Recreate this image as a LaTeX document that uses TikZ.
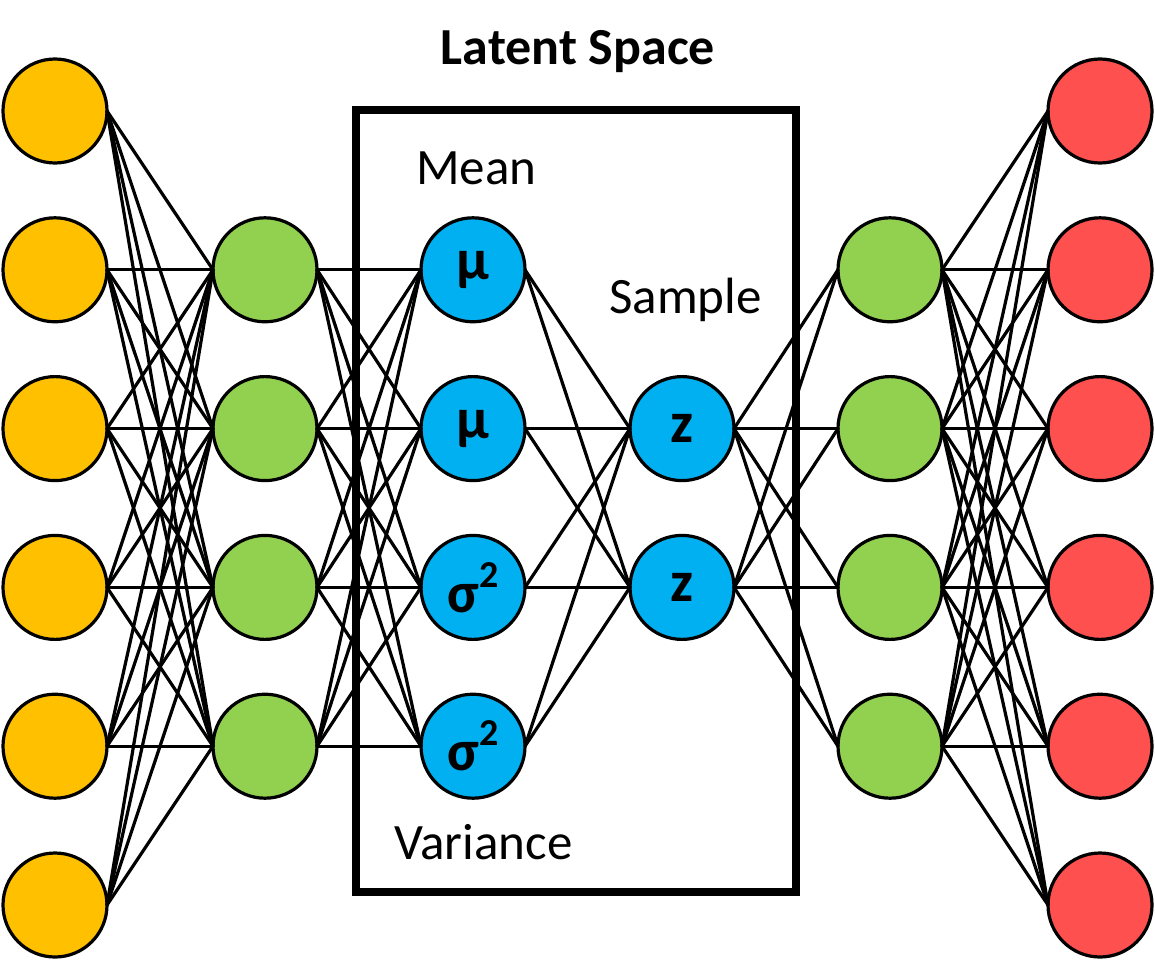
\documentclass[tikz,border=0pt]{standalone}
\usepackage{fontspec}
\setmainfont{Carlito}
\definecolor{cOrange}{HTML}{FFC000}
\definecolor{cGreen}{HTML}{92D050}
\definecolor{cBlue}{HTML}{00B0F0}
\definecolor{cRed}{HTML}{FF5050}
\newcommand{\latfont}{\fontsize{58}{62}\selectfont\bfseries}
\newcommand{\sqsup}{\kern1pt\raisebox{25pt}{\fontsize{38}{40}\selectfont\bfseries 2}}
\begin{document}
\begin{tikzpicture}[x=1pt,y=-1pt,
  neuron/.style={circle, draw=black, line width=3.2pt, minimum size=104pt, inner sep=0pt, outer sep=0pt},
  inp/.style={neuron, fill=cOrange},
  hid/.style={neuron, fill=cGreen},
  lat/.style={neuron, fill=cBlue},
  outp/.style={neuron, fill=cRed},
  conn/.style={line width=3.2pt, line cap=round},
  lbl/.style={font=\fontsize{51}{60}\selectfont, inner sep=0pt, anchor=base west},
  latentbox/.style={draw=black, line width=8.5pt, minimum width=440pt, minimum height=782pt, inner sep=0pt}]
\useasboundingbox (0,0) rectangle (1155,960);

% latent space box
\node[latentbox] (box) at (576,501) {};
\node[font=\fontsize{52}{60}\selectfont\bfseries, inner sep=0pt, anchor=base] (title) at (578,65) {Latent Space};
\node[lbl] (mean) at (416,184) {Mean};
\node[lbl] (sample) at (609,313) {Sample};
\node[lbl] (variance) at (394,859) {Variance};

% input layer
\foreach \i/\y in {1/111,2/269.8,3/428.6,4/587.4,5/746.2,6/905}
  \node[inp] (o\i) at (55,\y) {};
% encoder hidden layer
\foreach \i/\y in {1/269.8,2/428.6,3/587.4,4/746.2}
  \node[hid] (g\i) at (265,\y) {};
% mean / variance layer
\node[lat] (m1) at (473,269.8) {\latfont μ};
\node[lat] (m2) at (473,428.6) {\latfont μ};
\node[lat] (m3) at (473,587.4) {\latfont σ\sqsup};
\node[lat] (m4) at (473,746.2) {\latfont σ\sqsup};
% sample layer
\node[lat] (z1) at (682,428.6) {\latfont z};
\node[lat] (z2) at (682,587.4) {\latfont z};
% decoder hidden layer
\foreach \i/\y in {1/269.8,2/428.6,3/587.4,4/746.2}
  \node[hid] (h\i) at (890,\y) {};
% output layer
\foreach \i/\y in {1/111,2/269.8,3/428.6,4/587.4,5/746.2,6/905}
  \node[outp] (r\i) at (1100,\y) {};

% connections
\foreach \i in {1,...,6}
  \foreach \j in {1,...,4}
    \draw[conn] (o\i.east) -- (g\j.west);
\foreach \i in {1,...,4}
  \foreach \j in {1,...,4}
    \draw[conn] (g\i.east) -- (m\j.west);
\foreach \i in {1,...,4}
  \foreach \j in {1,2}
    \draw[conn] (m\i.east) -- (z\j.west);
\foreach \i in {1,2}
  \foreach \j in {1,...,4}
    \draw[conn] (z\i.east) -- (h\j.west);
\foreach \i in {1,...,4}
  \foreach \j in {1,...,6}
    \draw[conn] (h\i.east) -- (r\j.west);
\end{tikzpicture}
\end{document}
